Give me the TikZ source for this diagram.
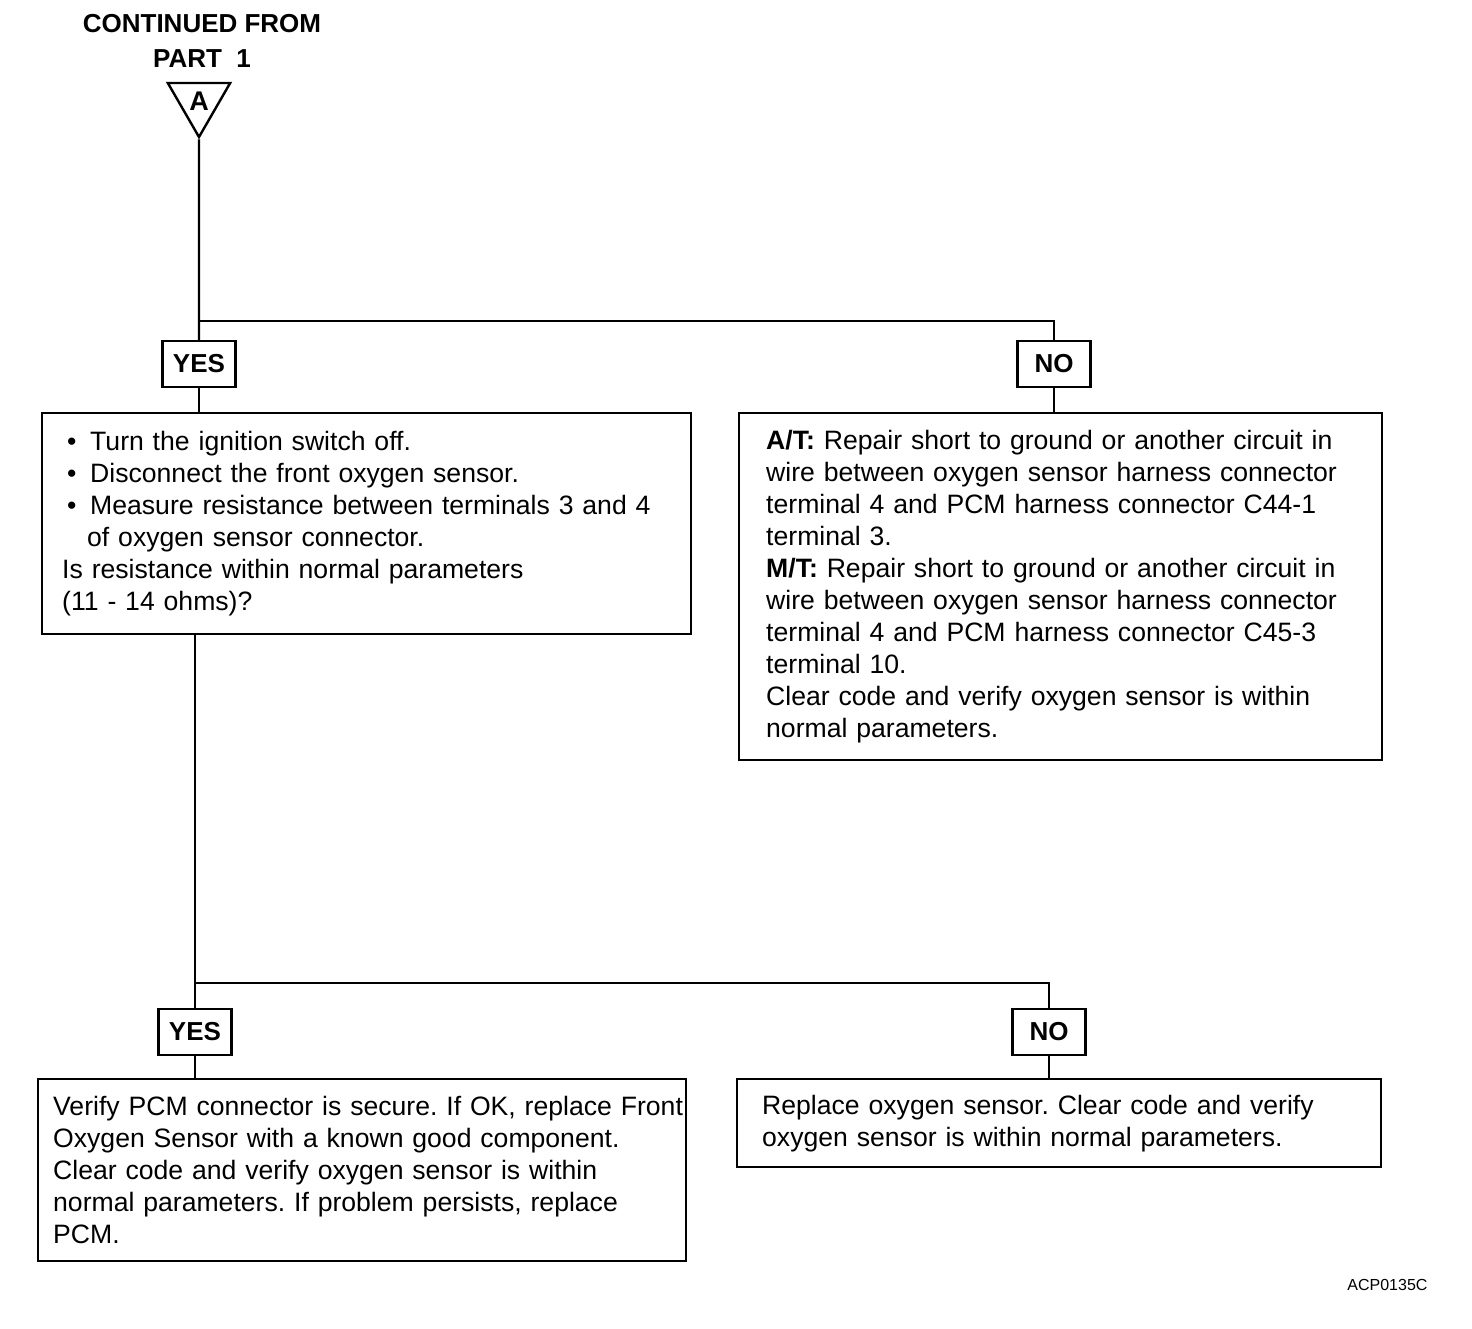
\documentclass[tikz,border=0pt]{standalone}
\usepackage{fontspec}
\setmainfont{Liberation Sans}
\usetikzlibrary{shapes.geometric,positioning}
\newcommand{\blt}{\hspace*{5pt}\makebox[23pt][l]{\textbullet}}
\frenchspacing

\begin{document}
\begin{tikzpicture}[x=1pt,y=-1pt,line width=2.4pt,
    box/.style={draw,align=left,anchor=north west,inner ysep=0pt,
      font=\fontsize{26.6}{32}\selectfont},
    answer/.style={draw,minimum width=73pt,minimum height=46pt,inner sep=0pt,
      font=\bfseries\fontsize{26}{26}\selectfont}]
  \useasboundingbox (0,0) rectangle (1472,1328);

  % entry point
  \node[font=\bfseries\fontsize{26}{35}\selectfont,align=center] (head) at (202,41)
    {CONTINUED FROM\\PART\ \ 1};
  \node[draw,regular polygon,regular polygon sides=3,shape border rotate=180,
    minimum size=72pt,inner sep=0pt,font=\bfseries\fontsize{27}{27}\selectfont]
    (tri) at (199,101) {A};

  % first check
  \node[answer] (yes1) at (199,364) {YES};
  \node[answer] (no1) at (1054,364) {NO};
  \node[box,minimum width=649pt,minimum height=221pt,inner xsep=20pt,text width=609pt]
    (check) at (41,412) {%
    \blt Turn the ignition switch off.\\
    \blt Disconnect the front oxygen sensor.\\
    \blt Measure resistance between terminals 3 and 4\\
    \hspace*{25pt}of oxygen sensor connector.\\
    Is resistance within normal parameters\\
    (11 - 14 ohms)?};
  \node[box,minimum width=643pt,minimum height=347pt,inner xsep=27pt,text width=589pt]
    (short) at (738,412) {%
    \textbf{A/T:} Repair short to ground or another circuit in\\
    wire between oxygen sensor harness connector\\
    terminal 4 and PCM harness connector C44-1\\
    terminal 3.\\
    \textbf{M/T:} Repair short to ground or another circuit in\\
    wire between oxygen sensor harness connector\\
    terminal 4 and PCM harness connector C45-3\\
    terminal 10.\\
    Clear code and verify oxygen sensor is within\\
    normal parameters.};

  % second check
  \node[answer] (yes2) at (195,1032) {YES};
  \node[answer] (no2) at (1049,1032) {NO};
  \node[box,minimum width=648pt,minimum height=182pt,inner xsep=15pt,text width=618pt]
    (pcm) at (37,1078) {%
    \mbox{Verify PCM connector is secure. If OK, replace Front}\\
    Oxygen Sensor with a known good component.\\
    Clear code and verify oxygen sensor is within\\
    normal parameters. If problem persists, replace\\
    PCM.};
  \node[box,minimum width=644pt,minimum height=88pt,inner xsep=25pt,text width=594pt]
    (sensor) at (736,1078) {%
    Replace oxygen sensor. Clear code and verify\\
    oxygen sensor is within normal parameters.};

  \node[font=\fontsize{16}{16}\selectfont,anchor=east] (code) at (1432,1285) {ACP0135C};

  % connectors
  \coordinate (split1) at (199,321);
  \coordinate (split2) at (195,983);
  \draw (tri.south) -- (yes1.north);
  \draw (split1) -| (no1.north);
  \draw (yes1.south) -- (yes1.south |- check.north);
  \draw (no1.south) -- (no1.south |- short.north);
  \draw (yes2.north |- check.south) -- (yes2.north);
  \draw (split2) -| (no2.north);
  \draw (yes2.south) -- (yes2.south |- pcm.north);
  \draw (no2.south) -- (no2.south |- sensor.north);
\end{tikzpicture}
\end{document}
